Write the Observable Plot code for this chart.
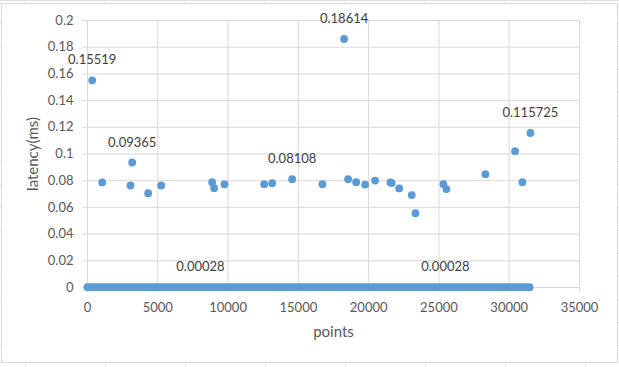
<!DOCTYPE html>
<html>
<head>
<meta charset="utf-8">
<script src="https://cdn.jsdelivr.net/npm/d3@7"></script>
<script src="https://cdn.jsdelivr.net/npm/@observablehq/plot@0.6"></script>
<style>
  html, body { margin: 0; padding: 0; background: #fff; }
  #sheet {
    position: relative; width: 619px; height: 367px; overflow: hidden;
    background-color: #fff;
    background-image:
      linear-gradient(to right, #e1e1e1 1px, transparent 1px),
      linear-gradient(to bottom, #e1e1e1 1px, transparent 1px);
    background-size: 80px 23px, 80px 23px;
    background-position: 25px 0, 0 0;
  }
  #box {
    position: absolute; left: 1px; top: 3px; width: 615px; height: 358px;
    background: #fff; border: 1px solid #d9d9d9;
  }
  #chart { position: absolute; left: 0; top: 0; }
  g[aria-label="x-axis label"] text, g[aria-label="y-axis label"] text { font-size: 15px; }
</style>
</head>
<body>
<div id="sheet"><div id="box"></div><div id="chart"></div></div>
<script>
// Outlier points: x (point index) and latency (ms)
const pointX = [334, 1045, 3058, 3179, 4316, 5241, 8868, 9010, 9743, 12567, 13136, 14558, 16713,
  18256, 18541, 19110, 19750, 20461, 21550, 21640, 22168, 23065, 23327, 25319, 25532, 28306,
  30418, 30937, 31507];
const latency = [0.15519, 0.0787, 0.0764, 0.09365, 0.0706, 0.0764, 0.0789, 0.0744, 0.0773, 0.0774,
  0.0781, 0.08108, 0.0774, 0.18614, 0.0811, 0.0789, 0.0771, 0.0801, 0.0787, 0.0782, 0.0742,
  0.0692, 0.0557, 0.0774, 0.0737, 0.0849, 0.1021, 0.0789, 0.115725];

// Dense run of baseline points (≈0.00028 ms) spanning these indices
const baselineX = [0, 31450];
const baselineValue = 0.00028;

// Data labels
const labelX = [334, 3179, 14558, 18256, 31507, 8037, 25461];
const labelY = [0.15519, 0.09365, 0.08108, 0.18614, 0.115725, 0.00028, 0.00028];
const labelText = ["0.15519", "0.09365", "0.08108", "0.18614", "0.115725", "0.00028", "0.00028"];

// Axis ticks
const xTicks = [0, 5000, 10000, 15000, 20000, 25000, 30000, 35000];
const yTicks = [0, 0.02, 0.04, 0.06, 0.08, 0.1, 0.12, 0.14, 0.16, 0.18, 0.2];
const yTickLabels = ["0", "0.02", "0.04", "0.06", "0.08", "0.1", "0.12", "0.14", "0.16", "0.18", "0.2"];

const points = pointX.map((x, i) => ({x, y: latency[i]}));
const baseline = baselineX.map(x => ({x, y: baselineValue}));
const labels = labelX.map((x, i) => ({x, y: labelY[i], t: labelText[i]}));

const grid = "#d9d9d9";
const blue = "#5B9BD5";
const txt = "#595959";

const chart = Plot.plot({
  width: 619,
  height: 367,
  marginLeft: 87,
  marginRight: 40,
  marginTop: 20,
  marginBottom: 80,
  style: {background: "transparent", fontFamily: "Lato, 'Open Sans', sans-serif", fontSize: "13px", color: txt},
  x: {domain: [0, 35000]},
  y: {domain: [0, 0.2]},
  marks: [
    Plot.gridX(xTicks, {stroke: grid, strokeOpacity: 1}),
    Plot.gridY(yTicks, {stroke: grid, strokeOpacity: 1}),
    Plot.axisX({ticks: xTicks, tickSize: 5, tickPadding: 10, stroke: grid, fill: txt,
      tickFormat: d => String(d), label: "points", labelAnchor: "center", labelArrow: "none", labelOffset: 49,
      fontSize: 13}),
    Plot.axisY({ticks: yTicks, tickSize: 5, tickPadding: 9, stroke: grid, fill: txt,
      tickFormat: d => yTickLabels[yTicks.indexOf(d)], label: "latency(ms)", labelAnchor: "center",
      labelArrow: "none", labelOffset: 60, fontSize: 13}),
    Plot.line(baseline, {x: "x", y: "y", stroke: blue, strokeWidth: 7.8, strokeLinecap: "round"}),
    Plot.dot(points, {x: "x", y: "y", r: 3.9, fill: blue}),
    Plot.text(labels, {x: "x", y: "y", text: "t", dy: -20, fill: "#404040", fontSize: 13})
  ]
});
document.getElementById("chart").appendChild(chart);
</script>
</body>
</html>
